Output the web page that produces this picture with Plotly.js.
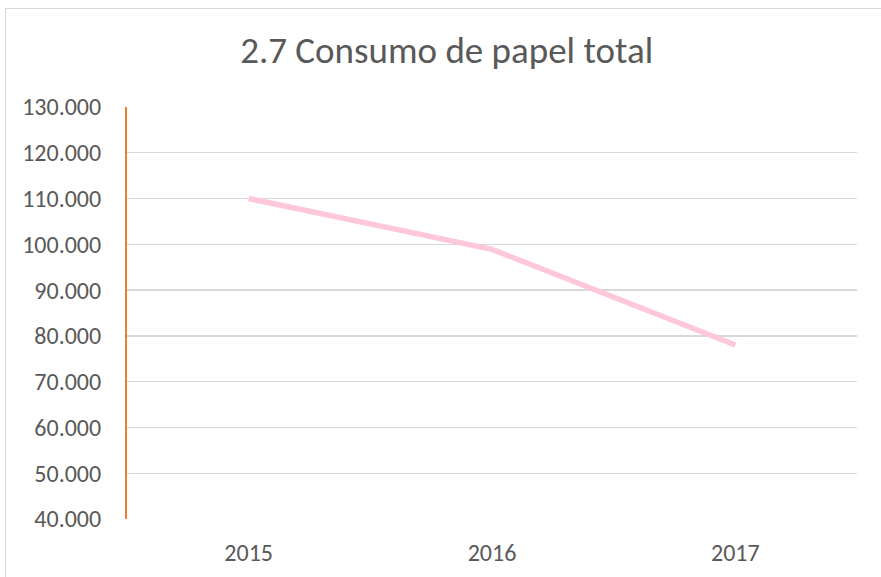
<!DOCTYPE html>
<html>
<head>
<meta charset="utf-8">
<script src="https://cdn.plot.ly/plotly-3.0.1.min.js"></script>
<style>
  html, body { margin: 0; padding: 0; background: #fff; }
  #frame { position: absolute; left: 5px; top: 8px; width: 876px; height: 569px;
           border-left: 1px solid #d9d9d9; border-top: 1px solid #d9d9d9; }
  #chart { position: absolute; left: 0; top: 0; width: 881px; height: 577px; }
</style>
</head>
<body>
<div id="frame"></div>
<div id="chart"></div>
<script>
const years = ['2015', '2016', '2017'];
const consumo = [110000, 98900, 78000];
const chartTitle = '2.7 Consumo de papel total';

const fontFam = 'Carlito, "Liberation Sans Narrow", "Open Sans", sans-serif';

Plotly.newPlot('chart', [{
  type: 'scatter',
  mode: 'lines',
  x: years,
  y: consumo,
  line: { color: '#FFC8DA', width: 5.5 },
  hoverinfo: 'skip'
}], {
  width: 881, height: 577,
  paper_bgcolor: 'rgba(0,0,0,0)',
  plot_bgcolor: 'rgba(0,0,0,0)',
  margin: { l: 127, r: 24, t: 107, b: 58 },
  separators: ',.',
  showlegend: false,
  title: {
    text: chartTitle,
    x: 0.507, xref: 'container', xanchor: 'center',
    y: 0.914, yref: 'container', yanchor: 'middle',
    font: { family: fontFam, size: 37, color: '#595959' }
  },
  xaxis: {
    type: 'category',
    range: [-0.5, 2.5],
    showgrid: false,
    zeroline: false,
    showline: false,
    ticks: '',
    ticklabelstandoff: 17,
    tickfont: { family: fontFam, size: 24, color: '#595959' }
  },
  yaxis: {
    range: [40000, 130000],
    dtick: 10000,
    tick0: 40000,
    tickformat: ',d',
    showgrid: true,
    gridcolor: '#d9d9d9',
    gridwidth: 1.3,
    zeroline: false,
    showline: true,
    linecolor: '#ED7D31',
    linewidth: 2,
    ticks: '',
    ticklabelstandoff: 19,
    tickfont: { family: fontFam, size: 24, color: '#595959' }
  }
}, { staticPlot: true });
</script>
</body>
</html>
